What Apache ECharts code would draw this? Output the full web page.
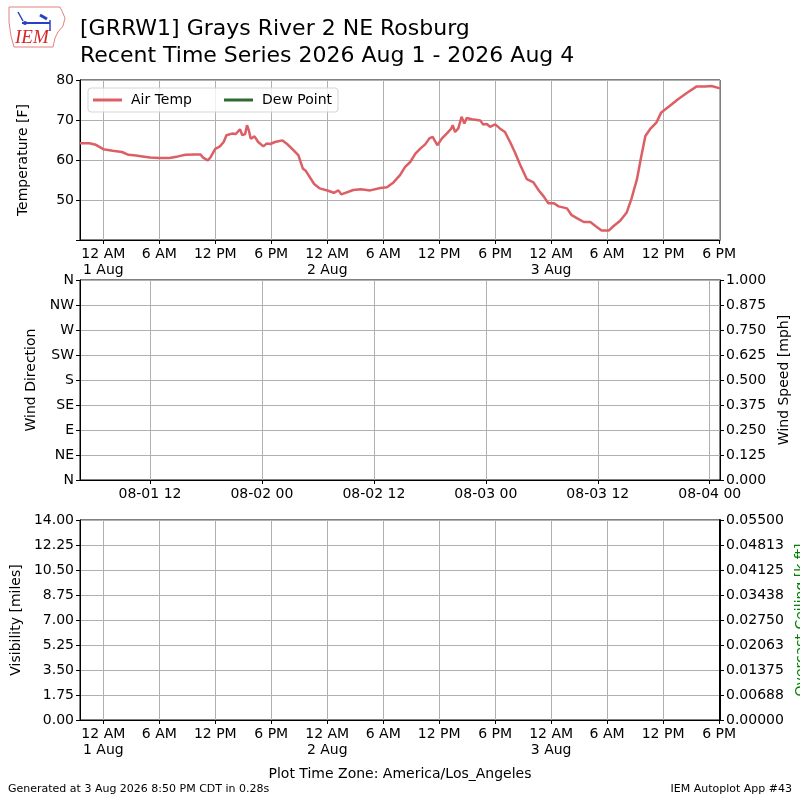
<!DOCTYPE html>
<html><head><meta charset="utf-8">
<script src="https://cdn.jsdelivr.net/npm/echarts@6/dist/echarts.min.js"></script>
<style>html,body{margin:0;padding:0;background:#fff}#c{width:800px;height:800px}</style>
</head><body><div id="c"></div>
<script>
// hours since 1 Aug 2026 00:00 America/Los_Angeles
const tempHours = [-2.5,-1.5,-0.8,0.0,1.0,2.0,2.7,3.5,4.2,5.0,6.0,7.1,8.0,8.8,9.8,10.4,10.7,11.2,11.5,12.0,12.5,12.9,13.2,13.8,14.2,14.65,14.9,15.2,15.4,15.6,15.8,16.2,16.6,17.15,17.5,17.9,18.4,19.2,19.7,20.4,20.9,21.4,21.7,22.6,23.2,24.1,24.7,25.2,25.5,26.8,27.6,28.6,29.7,30.4,31.1,31.8,32.35,32.9,33.45,34.0,34.5,34.95,35.3,35.8,36.3,36.8,37.25,37.45,37.7,38.05,38.4,38.7,38.95,39.5,40.4,40.7,41.1,41.45,42.0,42.5,43.05,43.6,44.1,44.7,45.2,45.4,46.1,46.7,47.2,47.7,48.3,48.8,49.7,50.2,50.8,51.5,52.2,52.75,53.4,54.2,54.7,55.4,56.1,56.6,57.2,57.6,58.1,58.6,59.3,59.8,60.7,61.6,62.5,63.6,64.5,65.2,66.1];
const tempValues = [64.2,64.2,63.8,62.7,62.3,62.0,61.3,61.1,60.9,60.6,60.5,60.5,60.9,61.3,61.4,61.4,60.6,59.9,60.7,62.8,63.4,64.5,66.2,66.6,66.5,67.7,66.2,66.5,68.7,67.4,65.3,65.9,64.5,63.4,64.1,64.0,64.5,64.9,64.0,62.4,61.2,57.8,57.3,54.0,52.9,52.3,51.8,52.4,51.4,52.5,52.7,52.4,53.0,53.2,54.4,56.2,58.3,59.5,61.6,62.9,63.9,65.4,65.8,63.7,65.4,66.6,67.7,68.7,67.0,67.9,70.8,69.1,70.5,70.2,69.9,68.9,69.0,68.3,68.9,67.9,67.0,64.5,62.0,58.7,56.2,55.2,54.4,52.3,50.9,49.2,49.2,48.4,47.9,46.2,45.4,44.5,44.5,43.5,42.4,42.4,43.5,44.8,46.9,50.2,55.2,60.2,66.0,67.7,69.4,71.9,73.5,75.2,76.7,78.4,78.4,78.5,77.9];
const dewHours = [];
const dewValues = [];
const xMin = -2.5, xMax = 66.1;
const timeTicks = [0,6,12,18,24,30,36,42,48,54,60,66];
const timeTickLabels = ['12 AM\n1 Aug','6 AM','12 PM','6 PM','12 AM\n2 Aug','6 AM','12 PM','6 PM','12 AM\n3 Aug','6 AM','12 PM','6 PM'];
const utcTicks = [5,17,29,41,53,65];
const utcTickLabels = ['08-01 12','08-02 00','08-02 12','08-03 00','08-03 12','08-04 00'];
const tempTickLabels = {50:'50',60:'60',70:'70',80:'80'};
const dirLabels = ['N','NE','E','SE','S','SW','W','NW','N'];
const speedLabels = ['0.000','0.125','0.250','0.375','0.500','0.625','0.750','0.875','1.000'];
const visLabels = ['0.00','1.75','3.50','5.25','7.00','8.75','10.50','12.25','14.00'];
const ceilLabels = ['0.00000','0.00688','0.01375','0.02063','0.02750','0.03438','0.04125','0.04813','0.05500'];

const FONT = 'DejaVu Sans';
const GRID_C = '#b0b0b0';
function lookup(ticks, labels, v){
  for (let i=0;i<ticks.length;i++) if (Math.abs(ticks[i]-v)<1e-6) return labels[i];
  return '';
}
function xAxisCfg(gridIndex, ticks, labels){
  return {
    type:'value', gridIndex, min:xMin, max:xMax,
    axisLine:{show:true, onZero:false, lineStyle:{color:'#000', width:1}},
    axisTick:{show:true, length:4, customValues:ticks, lineStyle:{color:'#000'}},
    axisLabel:{show:true, customValues:ticks, margin:6, color:'#000', fontSize:14, fontFamily:FONT, lineHeight:16,
      formatter:v=>lookup(ticks, labels, v)},
    splitLine:{show:true, lineStyle:{color:GRID_C, width:1}}
  };
}
function yAxisCfg(o){
  return Object.assign({
    type:'value', nameLocation:'middle',
    nameTextStyle:{fontSize:14, fontFamily:FONT, color:'#000'},
    axisLine:{show:true, onZero:false, lineStyle:{color:'#000', width:1}},
    axisTick:{show:true, length:4, lineStyle:{color:'#000'}},
    splitLine:{show:true, lineStyle:{color:GRID_C, width:1}}
  }, o);
}
const lbl = (f)=>({color:'#000', fontSize:14, fontFamily:FONT, margin:6, formatter:f});
const gridBase = {left:80, width:640, show:true, borderColor:'#000', borderWidth:1, backgroundColor:'transparent', containLabel:false, outerBoundsMode:'none'};

const chart = echarts.init(document.getElementById('c'), null, {renderer:'canvas'});
const option = {
  animation:false,
  backgroundColor:'#fff',
  textStyle:{fontFamily:FONT},
  grid:[
    Object.assign({top:80, height:160}, gridBase),
    Object.assign({top:280, height:200}, gridBase),
    Object.assign({top:520, height:200}, gridBase)
  ],
  legend:{
    left:88, top:88, orient:'horizontal',
    padding:[5,6,5,5], itemGap:32, itemWidth:29, itemHeight:3,
    borderColor:'#d5d5d5', borderWidth:1, borderRadius:3, backgroundColor:'rgba(255,255,255,0.8)',
    textStyle:{fontSize:14, fontFamily:FONT, color:'#000', padding:[0,0,0,4]},
    data:[{name:'Air Temp', icon:'rect'},{name:'Dew Point', icon:'rect'}]
  },
  xAxis:[
    xAxisCfg(0, timeTicks, timeTickLabels),
    xAxisCfg(1, utcTicks, utcTickLabels),
    xAxisCfg(2, timeTicks, timeTickLabels)
  ],
  yAxis:[
    yAxisCfg({gridIndex:0, min:40, max:80, interval:10, name:'Temperature [F]', nameGap:50,
      axisLabel:lbl(v=>tempTickLabels[Math.round(v)]||'')}),
    yAxisCfg({gridIndex:1, min:0, max:360, interval:45, name:'Wind Direction', nameGap:38,
      axisLabel:lbl(v=>dirLabels[Math.round(v/45)])}),
    yAxisCfg({gridIndex:1, position:'right', min:0, max:1, interval:0.125, name:'Wind Speed [mph]', nameGap:53,
      splitLine:{show:false}, axisLabel:lbl(v=>speedLabels[Math.round(v/0.125)])}),
    yAxisCfg({gridIndex:2, min:0, max:14, interval:1.75, name:'Visibility [miles]', nameGap:55,
      axisLabel:lbl(v=>visLabels[Math.round(v/1.75)])}),
    yAxisCfg({gridIndex:2, position:'right', min:0, max:0.055, interval:0.006875, name:'Overcast Ceiling [k ft]', nameGap:68,
      nameTextStyle:{fontSize:14, fontFamily:FONT, color:'#008000'},
      axisLine:{show:true, onZero:false, lineStyle:{color:'#000', width:2}},
      splitLine:{show:false}, axisLabel:lbl(v=>ceilLabels[Math.round(v/0.006875)])})
  ],
  series:[
    {name:'Air Temp', type:'line', xAxisIndex:0, yAxisIndex:0, showSymbol:false, symbol:'none',
      color:'#dc5f66', lineStyle:{color:'#dc5f66', width:2.5}, clip:true,
      data:tempHours.map((h,i)=>[h,tempValues[i]])},
    {name:'Dew Point', type:'line', xAxisIndex:0, yAxisIndex:0, showSymbol:false, symbol:'none',
      color:'#2e6b30', lineStyle:{color:'#2e6b30', width:2.5},
      data:dewHours.map((h,i)=>[h,dewValues[i]])}
  ],
  graphic:[
    {type:'polyline', shape:{points:[[9,7],[60,7],[62,11],[65,18],[63,26],[58,32],[55,38],[53,47],[14,47],[11,36],[9,22],[9,7]]},
      style:{stroke:'#e58080', fill:'none', lineWidth:1}},
    {type:'line', shape:{x1:22,y1:23,x2:50,y2:23}, style:{stroke:'#2a3fc8', lineWidth:2}},
    {type:'line', shape:{x1:18,y1:12,x2:23,y2:21}, style:{stroke:'#2a3fc8', lineWidth:1.5}},
    {type:'line', shape:{x1:40,y1:15,x2:47,y2:19}, style:{stroke:'#2a3fc8', lineWidth:3}},
    {type:'line', shape:{x1:50,y1:20,x2:50,y2:31}, style:{stroke:'#2a3fc8', lineWidth:1.5}},
    {type:'circle', shape:{cx:25,cy:23,r:2}, style:{fill:'#2a3fc8'}},
    {type:'text', style:{text:'IEM', x:15, y:38, font:'italic 19px "Liberation Serif", serif', fill:'#d42828', verticalAlign:'middle'}},
    {type:'text', style:{text:'[GRRW1] Grays River 2 NE Rosburg', x:80, y:29, font:'22px "DejaVu Sans"', fill:'#000', verticalAlign:'middle'}},
    {type:'text', style:{text:'Recent Time Series 2026 Aug 1 - 2026 Aug 4', x:80, y:56, font:'22px "DejaVu Sans"', fill:'#000', verticalAlign:'middle'}},
    {type:'text', style:{text:'Plot Time Zone: America/Los_Angeles', x:400, y:774, font:'14px "DejaVu Sans"', fill:'#000', align:'center', verticalAlign:'middle'}},
    {type:'text', style:{text:'Generated at 3 Aug 2026 8:50 PM CDT in 0.28s', x:8, y:789, font:'11px "DejaVu Sans"', fill:'#000', verticalAlign:'middle'}},
    {type:'text', style:{text:'IEM Autoplot App #43', x:792, y:789, font:'11px "DejaVu Sans"', fill:'#000', align:'right', verticalAlign:'middle'}}
  ]
};
chart.setOption(option);
</script>
</body></html>
